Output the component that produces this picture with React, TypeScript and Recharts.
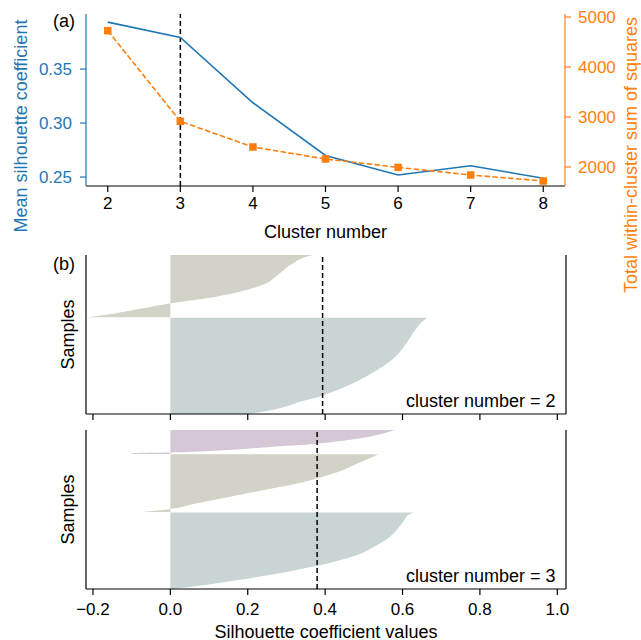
import React from 'react';
import { ComposedChart, Line, Area, XAxis, YAxis, ReferenceLine } from 'recharts';

const FONT = '"Liberation Sans", Arial, Helvetica, sans-serif';
const BLUE = '#1f77b4';
const ORANGE = '#ff7f0e';
const C_BLUEGRAY = '#c9d4d5';
const C_KHAKI = '#d3d2c7';
const C_PURPLE = '#d5c7d5';

// ---- panel (a) data ----
const clusterNumbers = [2, 3, 4, 5, 6, 7, 8];
const meanSilhouette = [0.3935, 0.3793, 0.3188, 0.27, 0.2519, 0.2605, 0.2488];
const withinClusterSS = [4726, 2913, 2400, 2160, 1993, 1840, 1720];
const clusterTicks = [2, 3, 4, 5, 6, 7, 8];
const silTicks = [0.25, 0.3, 0.35];
const wssTicks = [2000, 3000, 4000, 5000];
const bestK = 3;

// ---- panel (b) data: [sample position, silhouette value] ----
const silValueTicks = [-0.2, 0, 0.2, 0.4, 0.6, 0.8, 1.0];

const k2Cluster0 = [
  [0, 0.2], [3, 0.25], [6, 0.285], [9, 0.31], [12.3, 0.335], [17.3, 0.385], [20.7, 0.41],
  [29, 0.462], [37.3, 0.505], [47.3, 0.548], [57.3, 0.582], [70.7, 0.61], [84, 0.633],
  [92, 0.65], [96.3, 0.664],
];
const k2Cluster1 = [
  [96.7, -0.215], [99, -0.17], [102.3, -0.12], [106, -0.065], [110.7, 0], [115.7, 0.093],
  [122.3, 0.179], [130.7, 0.248], [136, 0.268], [140.7, 0.283], [150.7, 0.317],
  [157.3, 0.352], [159, 0.37],
];

const k3Cluster0 = [
  [0, 0.005], [3, 0.07], [6, 0.125], [9, 0.175], [13, 0.24], [17, 0.3], [21, 0.35],
  [25, 0.4], [29, 0.44], [35, 0.49], [42, 0.525], [50, 0.56], [59, 0.585], [68, 0.603],
  [74, 0.615], [76.5, 0.628],
];
const k3Cluster1 = [
  [77, -0.075], [78.5, -0.035], [80, 0], [85, 0.06], [90, 0.125], [95, 0.19], [100, 0.255],
  [104, 0.31], [108, 0.355], [113, 0.4], [118, 0.44], [124, 0.475], [130, 0.51], [134.8, 0.537],
];
const k3Cluster2 = [
  [135.0, -0.099], [136.0, -0.095], [136.6, 0], [138, 0.1], [140, 0.19], [142.3, 0.265],
  [144, 0.335], [147, 0.42], [149.5, 0.47], [152, 0.51], [155, 0.545], [159, 0.58],
];

const buildRows = (clusters: number[][][]) => {
  const rows: any[] = [];
  clusters.forEach((cl, ci) => {
    cl.forEach(([s, v]) => {
      rows.push({ s, ['c' + ci]: v });
    });
  });
  return rows;
};

const dataA = clusterNumbers.map((k, i) => ({ k, sil: meanSilhouette[i], wss: withinClusterSS[i] }));
const rowsK2 = buildRows([k2Cluster0, k2Cluster1]);
const rowsK3 = buildRows([k3Cluster0, k3Cluster1, k3Cluster2]);

const fmtSil = (v: number) => (v < 0 ? '\u2212' + Math.abs(v).toFixed(1) : v.toFixed(1));

const SquareDot = (props: any) => {
  const { cx, cy, index } = props;
  if (cx == null || cy == null) return <g key={index} />;
  return <rect key={index} x={cx - 3.75} y={cy - 3.75} width={7.5} height={7.5} fill={ORANGE} />;
};

const textStyle = { fontFamily: FONT, fontSize: 18 };

function ChartA() {
  return (
    <ComposedChart width={641} height={310} data={dataA} margin={{ top: 14, right: 0, bottom: 0, left: 0 }}>
      <XAxis
        dataKey="k"
        type="number"
        domain={[1.7, 8.3]}
        ticks={clusterTicks}
        allowDataOverflow
        height={124}
        tickSize={6}
        tickMargin={5}
        axisLine={{ stroke: '#000', strokeWidth: 1.2 }}
        tickLine={{ stroke: '#000', strokeWidth: 1.2 }}
        tick={{ fill: '#000', fontSize: 17, fontFamily: FONT }}
        label={{
          content: (p: any) => {
            const vb = p.viewBox || {};
            return (
              <text x={vb.x + vb.width / 2} y={vb.y + 51.5} textAnchor="middle" fill="#000" style={textStyle}>
                Cluster number
              </text>
            );
          },
        }}
      />
      <XAxis
        xAxisId="top"
        orientation="top"
        dataKey="k"
        type="number"
        domain={[1.7, 8.3]}
        allowDataOverflow
        height={0}
        tick={false}
        tickLine={false}
        axisLine={{ stroke: '#000', strokeWidth: 1.2 }}
      />
      <YAxis
        yAxisId="left"
        type="number"
        domain={[0.2417, 0.401]}
        ticks={silTicks}
        allowDataOverflow
        width={86}
        tickSize={6}
        tickMargin={8}
        tickFormatter={(v: number) => v.toFixed(2)}
        axisLine={{ stroke: BLUE, strokeWidth: 1.2 }}
        tickLine={{ stroke: BLUE, strokeWidth: 1.2 }}
        tick={{ fill: BLUE, fontSize: 17, fontFamily: FONT }}
        label={{
          content: () => (
            <g>
              <text transform="translate(26.5, 126) rotate(-90)" x={0} y={0} textAnchor="middle" fill={BLUE} style={textStyle}>
                Mean silhouette coefficient
              </text>
              <text x={53} y={27} fill="#000" style={textStyle}>(a)</text>
            </g>
          ),
        }}
      />
      <YAxis
        yAxisId="right"
        orientation="right"
        type="number"
        domain={[1620, 5060]}
        ticks={wssTicks}
        allowDataOverflow
        width={76}
        tickSize={6}
        tickMargin={7}
        axisLine={{ stroke: ORANGE, strokeWidth: 1.2 }}
        tickLine={{ stroke: ORANGE, strokeWidth: 1.2 }}
        tick={{ fill: ORANGE, fontSize: 17, fontFamily: FONT }}
        label={{
          content: () => (
            <text transform="translate(636.5, 155) rotate(-90)" x={0} y={0} textAnchor="middle" fill={ORANGE} style={textStyle}>
              Total within-cluster sum of squares
            </text>
          ),
        }}
      />
      <ReferenceLine x={bestK} yAxisId="left" stroke="#000" strokeWidth={1.5} strokeDasharray="5 3" />
      <Line yAxisId="left" dataKey="sil" type="linear" stroke={BLUE} strokeWidth={1.6} dot={false} activeDot={false} isAnimationActive={false} />
      <Line
        yAxisId="right"
        dataKey="wss"
        type="linear"
        stroke={ORANGE}
        strokeWidth={1.6}
        strokeDasharray="5.5 2.4"
        dot={(p: any) => <SquareDot key={p.index} {...p} />}
        activeDot={false}
        isAnimationActive={false}
      />
    </ComposedChart>
  );
}

function SilPanel(props: {
  rows: any[];
  mean: number;
  k: number;
  height: number;
  marginTop: number;
  axisHeight: number;
  showTickLabels: boolean;
  tag?: string;
  nClusters: number;
}) {
  const { rows, mean, k, height, marginTop, axisHeight, showTickLabels, tag, nClusters } = props;
  const colors = [C_BLUEGRAY, C_KHAKI, C_PURPLE];
  return (
    <ComposedChart layout="vertical" width={641} height={height} data={rows} margin={{ top: marginTop, right: 0, bottom: 0, left: 0 }}>
      <XAxis
        type="number"
        domain={[-0.218, 1.0225]}
        ticks={silValueTicks}
        allowDataOverflow
        height={axisHeight}
        tickSize={6}
        tickMargin={8}
        tickFormatter={showTickLabels ? fmtSil : () => ''}
        axisLine={{ stroke: '#000', strokeWidth: 1.2 }}
        tickLine={{ stroke: '#000', strokeWidth: 1.2 }}
        tick={{ fill: '#000', fontSize: 17, fontFamily: FONT }}
        label={{
          content: (p: any) => {
            const vb = p.viewBox || {};
            return (
              <g>
                <text x={vb.x + vb.width - 10.5} y={vb.y - 7.5} textAnchor="end" fill="#000" style={textStyle}>
                  {'cluster number = ' + k}
                </text>
                {showTickLabels ? (
                  <text x={vb.x + vb.width / 2} y={vb.y + 48.5} textAnchor="middle" fill="#000" style={textStyle}>
                    Silhouette coefficient values
                  </text>
                ) : null}
              </g>
            );
          },
        }}
      />
      <XAxis
        xAxisId="top"
        orientation="top"
        type="number"
        domain={[-0.218, 1.0225]}
        allowDataOverflow
        height={0}
        tick={false}
        tickLine={false}
        axisLine={{ stroke: '#000', strokeWidth: 1.2 }}
      />
      <YAxis
        type="number"
        dataKey="s"
        domain={[0, 159]}
        reversed
        allowDataOverflow
        width={86}
        tick={false}
        tickLine={false}
        axisLine={{ stroke: '#000', strokeWidth: 1.2 }}
        label={{
          content: (p: any) => {
            const vb = p.viewBox || {};
            const cy = vb.y + vb.height / 2;
            return (
              <g>
                <text transform={`translate(73.5, ${cy}) rotate(-90)`} x={0} y={0} textAnchor="middle" fill="#000" style={textStyle}>
                  Samples
                </text>
                {tag ? (
                  <text x={53} y={vb.y + 14.5} fill="#000" style={textStyle}>{tag}</text>
                ) : null}
              </g>
            );
          },
        }}
      />
      <YAxis
        yAxisId="r"
        orientation="right"
        type="number"
        domain={[0, 159]}
        width={75}
        tick={false}
        tickLine={false}
        axisLine={{ stroke: '#000', strokeWidth: 1.2 }}
      />
      {Array.from({ length: nClusters }, (_, i) => (
        <Area
          key={'c' + i}
          dataKey={'c' + i}
          type="monotone"
          baseValue={0}
          stroke="none"
          fill={colors[i]}
          fillOpacity={1}
          dot={false}
          activeDot={false}
          isAnimationActive={false}
        />
      ))}
      <ReferenceLine x={mean} stroke="#000" strokeWidth={1.5} strokeDasharray="5 3" />
    </ComposedChart>
  );
}

export default function App() {
  return (
    <div style={{ position: 'absolute', left: 0, top: 0, width: 641, height: 640, background: '#fff', overflow: 'hidden' }}>
      <div style={{ position: 'absolute', left: 0, top: 0 }}>
        <ChartA />
      </div>
      <div style={{ position: 'absolute', left: 0, top: 240 }}>
        <SilPanel rows={rowsK2} mean={meanSilhouette[0]} k={2} height={185} marginTop={15} axisHeight={11} showTickLabels={false} tag="(b)" nClusters={2} />
      </div>
      <div style={{ position: 'absolute', left: 0, top: 425 }}>
        <SilPanel rows={rowsK3} mean={meanSilhouette[1]} k={3} height={215} marginTop={5} axisHeight={51} showTickLabels={true} nClusters={3} />
      </div>
    </div>
  );
}
